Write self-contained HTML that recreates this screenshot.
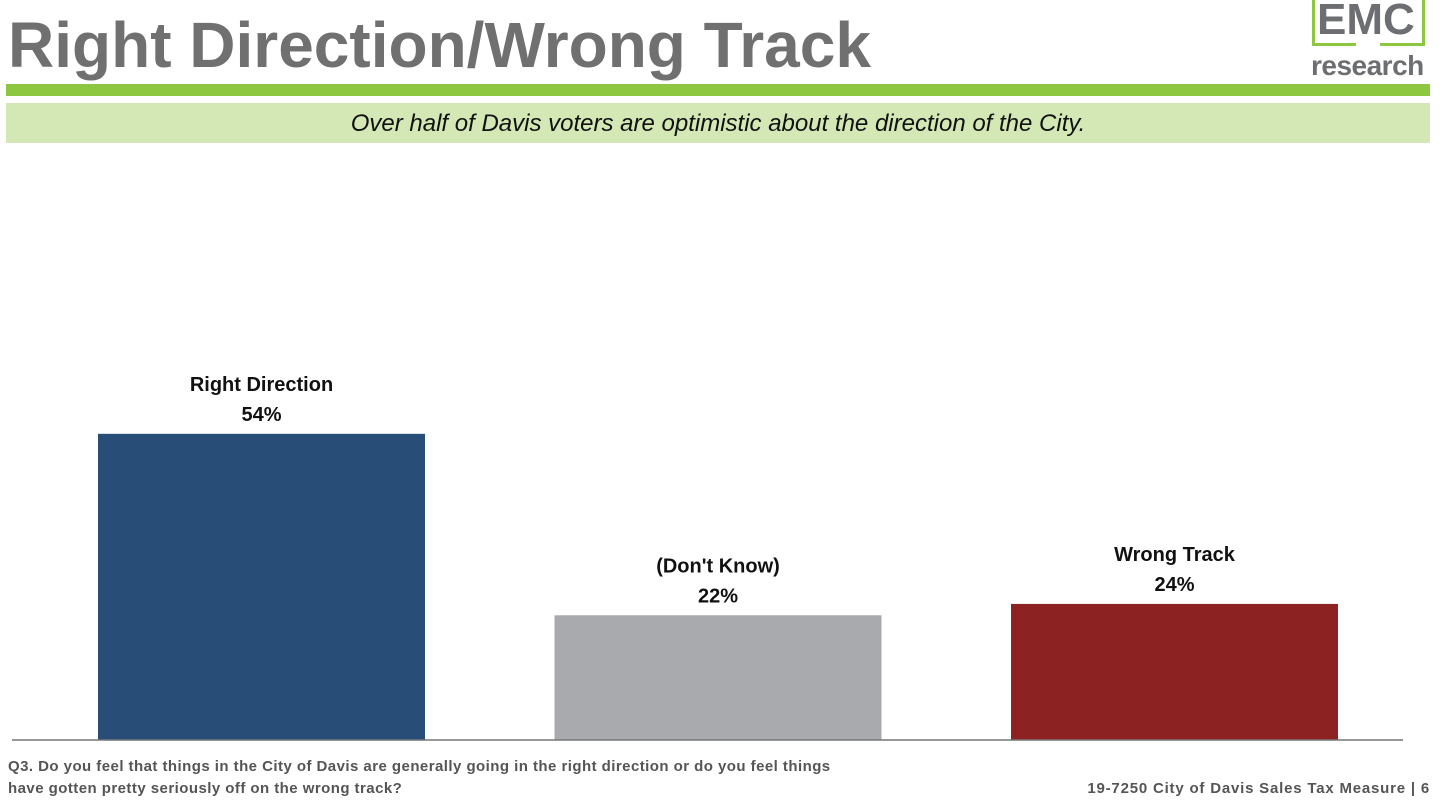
<!DOCTYPE html>
<html><head><meta charset="utf-8"><style>
body{margin:0;width:1445px;height:804px;background:#fff;position:relative;overflow:hidden;font-family:"Liberation Sans",sans-serif}
.a{position:absolute}
</style></head><body>
<div class="a" style="left:8px;top:5px;font-size:64px;font-weight:bold;color:#707070;letter-spacing:0px;line-height:80px">Right Direction/Wrong Track</div>
<div class="a" style="left:1300px;top:0;width:145px;height:84px">
 <div class="a" style="left:12px;top:0;width:3px;height:46px;background:#8dc63f"></div>
 <div class="a" style="left:12px;top:43px;width:44px;height:3px;background:#8dc63f"></div>
 <div class="a" style="left:80px;top:43px;width:45px;height:3px;background:#8dc63f"></div>
 <div class="a" style="left:122px;top:0;width:3px;height:46px;background:#8dc63f"></div>
 <div class="a" style="left:17px;top:-5px;font-size:44px;font-weight:bold;color:#6d6e71">EMC</div>
 <div class="a" style="left:11px;top:50px;font-size:28px;font-weight:bold;color:#6d6e71;letter-spacing:-0.5px">research</div>
</div>
<div class="a" style="left:6px;top:84px;width:1424px;height:12px;background:#8dc63f"></div>
<div class="a" style="left:6px;top:103px;width:1424px;height:40px;background:#d3e8b4;text-align:center;font-size:24px;font-style:italic;line-height:42px;color:#111">Over half of Davis voters are optimistic about the direction of the City.</div>
<svg class="a" style="left:0;top:0" width="1445" height="804">
<g id="g"></g>
<line x1="12" y1="740" x2="1403" y2="740" stroke="#777" stroke-width="1.5"/>
</svg>
<div class="a" style="left:8px;top:756px;font-size:15px;font-weight:bold;color:#555;line-height:22px;letter-spacing:0.45px">Q3. Do you feel that things in the City of Davis are generally going in the right direction or do you feel things<br>have gotten pretty seriously off on the wrong track?</div>
<div class="a" style="right:15px;top:778px;font-size:15px;font-weight:bold;color:#555;line-height:22px;letter-spacing:0.8px">19-7250 City of Davis Sales Tax Measure | 6</div>
<script>
const categories=["Right Direction","(Don't Know)","Wrong Track"];
const values=[54,22,24];
const colors=["#284d76","#a9aaad","#8c2221"];
const g=document.getElementById('g');
const ns="http://www.w3.org/2000/svg";
const baseY=740,pxPer=5.67,x0=98,step=456.5,bw=327;
function y(v){return baseY-v*pxPer;}
categories.forEach((c,i)=>{
 const x=x0+i*step;
 const r=document.createElementNS(ns,'rect');
 
 
 r.setAttribute('x',x);r.setAttribute('y',y(values[i]));r.setAttribute('width',bw);r.setAttribute('height',baseY-y(values[i]));r.setAttribute('fill',colors[i]);
 g.appendChild(r);
 [[c,-43],[values[i]+'%',-13]].forEach((t,j)=>{
  const tx=document.createElementNS(ns,'text');
  
  
  tx.setAttribute('x',x+bw/2);tx.setAttribute('y',y(values[i])+t[1]);
  tx.setAttribute('text-anchor','middle');tx.setAttribute('font-size','20');tx.setAttribute('font-weight','bold');
  tx.setAttribute('font-family','Liberation Sans, sans-serif');tx.setAttribute('fill','#111');
  tx.textContent=t[0];g.appendChild(tx);
 });
});
</script>
</body></html>
